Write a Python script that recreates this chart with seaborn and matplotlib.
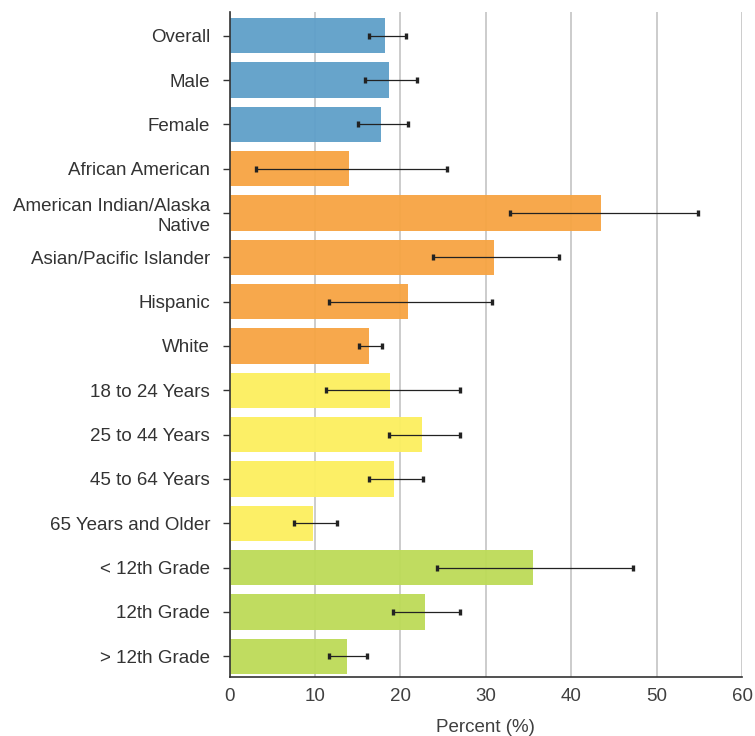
import numpy as np
import pandas as pd
import matplotlib.pyplot as plt
import seaborn as sns

# Data
categories = ['Overall', 'Male', 'Female', 'African American',
              'American Indian/Alaska\nNative', 'Asian/Pacific Islander',
              'Hispanic', 'White', '18 to 24 Years', '25 to 44 Years',
              '45 to 64 Years', '65 Years and Older', '< 12th Grade',
              '12th Grade', '> 12th Grade']
groups = ['All', 'Sex', 'Sex', 'Race', 'Race', 'Race', 'Race', 'Race',
          'Age', 'Age', 'Age', 'Age', 'Edu', 'Edu', 'Edu']
percent = [18.2, 18.7, 17.7, 14.0, 43.5, 30.9, 20.9, 16.3,
           18.8, 22.5, 19.3, 9.8, 35.5, 22.9, 13.7]
ci_low = [16.3, 15.9, 15.0, 3.1, 32.8, 23.8, 11.6, 15.1,
          11.3, 18.7, 16.3, 7.6, 24.3, 19.1, 11.7]
ci_high = [20.6, 21.9, 20.9, 25.4, 54.8, 38.6, 30.7, 17.9,
           27.0, 27.0, 22.7, 12.6, 47.2, 27.0, 16.1]

palette = {'All': '#5f9fc9', 'Sex': '#5f9fc9', 'Race': '#f7a442',
           'Age': '#fcef5e', 'Edu': '#bddb57'}

df = pd.DataFrame({'category': categories, 'group': groups, 'percent': percent,
                   'low': ci_low, 'high': ci_high})

sns.set_style('white')
plt.rcParams['font.family'] = ['Liberation Sans', 'DejaVu Sans']

fig, ax = plt.subplots(figsize=(7.55, 7.36), dpi=100)
fig.subplots_adjust(left=0.304, right=0.983, top=0.984, bottom=0.08)

ax.set_axisbelow(True)
ax.grid(axis='x', color='#c4c4c4', linewidth=1.2)

sns.barplot(data=df, x='percent', y='category', hue='group', palette=palette,
            dodge=False, width=0.8, alpha=0.95, saturation=1, legend=False,
            ax=ax, edgecolor='none')

ypos = np.arange(len(categories))
err = [df['percent'] - df['low'], df['high'] - df['percent']]
ax.errorbar(df['percent'], ypos, xerr=err, fmt='none', ecolor='#222222',
            elinewidth=0.9, capsize=2.5, capthick=2.4)

ax.set_xlim(0, 60)
ax.set_xticks(range(0, 61, 10))
ax.set_ylim(len(categories) - 0.53, -0.54)
ax.set_xlabel('Percent (%)', fontsize=13.5, color='#404040', labelpad=10)
ax.set_ylabel('')
ax.tick_params(axis='y', labelsize=13.5, colors='#333333', length=5,
               width=1, left=True, pad=9)
ax.tick_params(axis='x', labelsize=13.5, colors='#404040', length=0, pad=8)

sns.despine(ax=ax, top=True, right=True)
for side in ['left', 'bottom']:
    ax.spines[side].set_color('#333333')
    ax.spines[side].set_linewidth(1.2)

fig.savefig('out.png', dpi=100)
